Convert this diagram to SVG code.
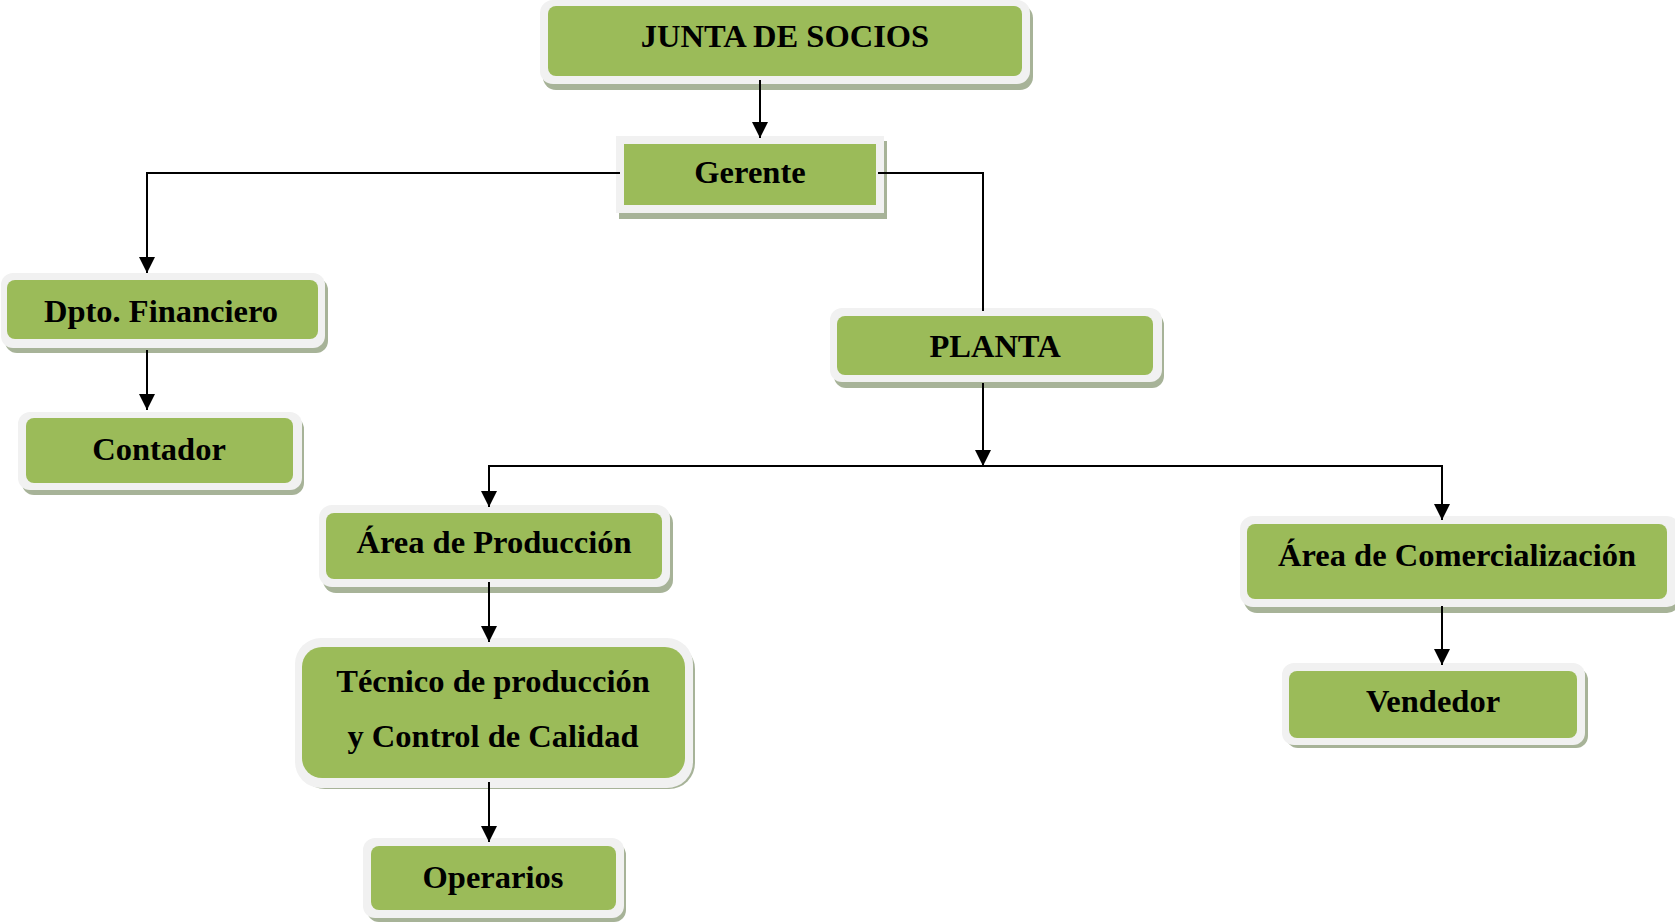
<svg xmlns="http://www.w3.org/2000/svg" width="1675" height="923" viewBox="0 0 1675 923">
<style>
.sh{fill:#a7b398}
.fr{fill:#f1f1f1}
.gr{fill:#9bbb59}
.t{font-family:"Liberation Serif","Times New Roman",serif;font-weight:bold;font-size:32.5px;fill:#000;text-anchor:middle;dominant-baseline:central}
.c{fill:none;stroke:#000;stroke-width:2}
</style>
<defs>
<marker id="ah" markerUnits="userSpaceOnUse" markerWidth="17" markerHeight="17" refX="16" refY="8" orient="auto" viewBox="0 0 17 17">
<path d="M0,0 L16,8 L0,16 z" fill="#000"/>
</marker>
</defs>
<rect width="1675" height="923" fill="#fff"/>
<g id="junta">
<rect class="sh" x="543" y="5" width="490" height="85" rx="13"/>
<rect class="fr" x="540" y="0" width="490" height="84" rx="13"/>
<rect class="gr" x="548" y="6" width="474" height="70" rx="8"/>
<text class="t" x="785" y="36">JUNTA DE SOCIOS</text>
</g>
<g id="gerente">
<rect class="sh" x="619" y="141" width="268" height="78"/>
<rect class="fr" x="616" y="136" width="268" height="77"/>
<rect class="gr" x="624" y="144" width="252" height="61"/>
<text class="t" x="750" y="172">Gerente</text>
</g>
<g id="financiero">
<rect class="sh" x="5" y="278" width="323" height="75" rx="12"/>
<rect class="fr" x="1" y="273" width="324" height="75" rx="12"/>
<rect class="gr" x="7" y="280" width="311" height="59" rx="8"/>
<text class="t" x="161" y="311">Dpto. Financiero</text>
</g>
<g id="contador">
<rect class="sh" x="22" y="417" width="282" height="78" rx="12"/>
<rect class="fr" x="18" y="412" width="284" height="78" rx="12"/>
<rect class="gr" x="26" y="418" width="267" height="65" rx="8"/>
<text class="t" x="159" y="449">Contador</text>
</g>
<g id="planta">
<rect class="sh" x="834" y="313" width="330" height="75" rx="12"/>
<rect class="fr" x="830" y="308" width="332" height="74" rx="12"/>
<rect class="gr" x="837" y="316" width="316" height="59" rx="8"/>
<text class="t" x="995" y="346">PLANTA</text>
</g>
<g id="produccion">
<rect class="sh" x="323" y="510" width="350" height="83" rx="13"/>
<rect class="fr" x="319" y="505" width="351" height="82" rx="13"/>
<rect class="gr" x="326" y="513" width="336" height="66" rx="8"/>
<text class="t" x="494" y="542">Área de Producción</text>
</g>
<g id="tecnico">
<rect class="sh" x="299" y="643" width="396" height="146" rx="26"/>
<rect class="fr" x="295" y="638" width="398" height="150" rx="26"/>
<rect class="gr" x="302" y="647" width="383" height="131" rx="20"/>
<text class="t" x="493" y="681">Técnico de producción</text>
<text class="t" x="493" y="736">y Control de Calidad</text>
</g>
<g id="operarios">
<rect class="sh" x="367" y="843" width="259" height="79" rx="12"/>
<rect class="fr" x="363" y="838" width="261" height="80" rx="12"/>
<rect class="gr" x="371" y="846" width="245" height="64" rx="8"/>
<text class="t" x="493" y="877">Operarios</text>
</g>
<g id="comercializacion">
<rect class="sh" x="1244" y="521" width="436" height="92" rx="13"/>
<rect class="fr" x="1240" y="516" width="440" height="91" rx="13"/>
<rect class="gr" x="1247" y="524" width="420" height="75" rx="8"/>
<text class="t" x="1457" y="555">Área de Comercialización</text>
</g>
<g id="vendedor">
<rect class="sh" x="1286" y="668" width="302" height="80" rx="12"/>
<rect class="fr" x="1282" y="663" width="303" height="82" rx="12"/>
<rect class="gr" x="1289" y="671" width="288" height="67" rx="8"/>
<text class="t" x="1433" y="701">Vendedor</text>
</g>
<g id="connectors">
<path class="c" d="M760,80 V138" marker-end="url(#ah)"/>
<path class="c" d="M620,173 H147 V273" marker-end="url(#ah)"/>
<path class="c" d="M878,173 H983 V311"/>
<path class="c" d="M147,350 V410" marker-end="url(#ah)"/>
<path class="c" d="M983,383 V466" marker-end="url(#ah)"/>
<path class="c" d="M488,466 H1443"/>
<path class="c" d="M489,465 V507" marker-end="url(#ah)"/>
<path class="c" d="M1442,465 V520" marker-end="url(#ah)"/>
<path class="c" d="M489,582 V642" marker-end="url(#ah)"/>
<path class="c" d="M489,782 V842" marker-end="url(#ah)"/>
<path class="c" d="M1442,606 V665" marker-end="url(#ah)"/>
</g>
</svg>
